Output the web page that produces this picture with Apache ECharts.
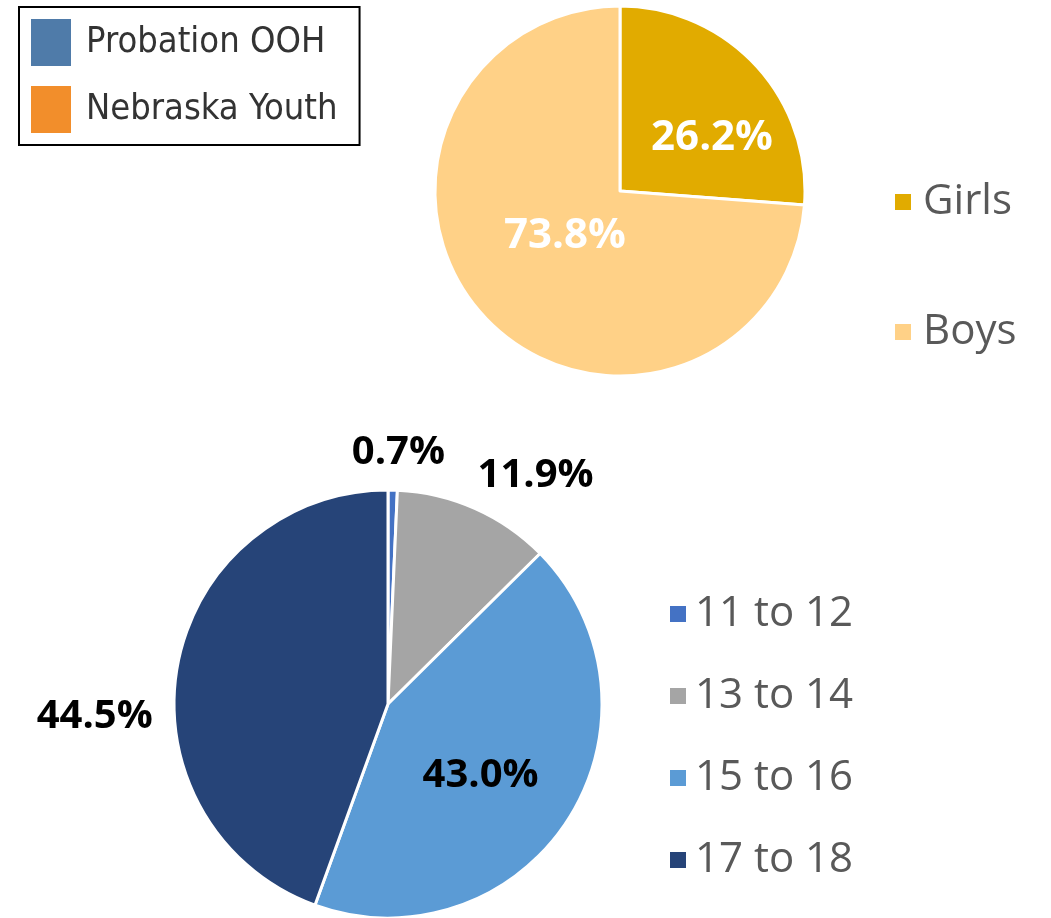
<!DOCTYPE html>
<html>
<head>
<meta charset="utf-8">
<script src="https://cdn.jsdelivr.net/npm/echarts@6/dist/echarts.min.js"></script>
<style>
  html, body { margin: 0; padding: 0; background: #fff; }
  #chart { width: 1051px; height: 918px; }
</style>
</head>
<body>
<div id="chart"></div>
<script>
// gender split
const genderNames = ["Girls", "Boys"];
const genderValues = [26.2, 73.8];
const genderColors = ["#E1AB00", "#FFD187"];

// age split
const ageNames = ["11 to 12", "13 to 14", "15 to 16", "17 to 18"];
const ageValues = [0.7, 11.9, 43.0, 44.5];
const ageColors = ["#4472C4", "#A5A5A5", "#5B9BD5", "#264478"];

// boxed legend in the corner
const groupNames = ["Probation OOH", "Nebraska Youth"];
const groupColors = ["#4F7BA9", "#F28E2B"];

// label nudges so they sit where the original places them
const genderLabelOffsets = [[22, 12], [15, -20]];
const ageLabelOffsets = [[8, -141], [103, -128], [0, 12], [-185, 32]];

const FONT = "'Open Sans', 'Noto Sans', sans-serif";

const chart = echarts.init(document.getElementById("chart"), null, { renderer: "canvas" });

const pct = (v) => v.toFixed(1) + "%";

const option = {
  backgroundColor: "#fff",
  animation: false,
  legend: [
    {
      // 性别图例
      data: genderNames,
      orient: "vertical",
      left: 888,
      top: 175,
      icon: "rect",
      itemWidth: 18,
      itemHeight: 18,
      itemGap: 86,
      selectedMode: false,
      textStyle: {
        fontFamily: FONT,
        fontSize: 42,
        lineHeight: 44,
        color: "#595959",
        padding: [0, 0, 0, 6],
      },
    },
    {
      // 年龄图例
      data: ageNames,
      orient: "vertical",
      left: 663,
      top: 587,
      icon: "rect",
      itemWidth: 18,
      itemHeight: 18,
      itemGap: 38,
      selectedMode: false,
      textStyle: {
        fontFamily: FONT,
        fontSize: 42,
        lineHeight: 44,
        color: "#595959",
        padding: [0, 0, 0, 3],
      },
    },
    {
      data: groupNames,
      orient: "vertical",
      left: 19,
      top: 7,
      icon: "rect",
      itemWidth: 40,
      itemHeight: 47,
      itemGap: 20,
      padding: [12, 22, 12, 12],
      borderColor: "#000",
      borderWidth: 2,
      selectedMode: false,
      textStyle: {
        fontFamily: "'DejaVu Sans Condensed', sans-serif",
        fontSize: 36,
        color: "#333",
        padding: [4, 0, 0, 10],
      },
    },
  ],
  series: [
    {
      type: "pie",
      center: [620, 191],
      radius: 185,
      startAngle: 90,
      clockwise: true,
      silent: true,
      itemStyle: { borderColor: "#fff", borderWidth: 3 },
      label: {
        show: true,
        position: "inside",
        fontFamily: FONT,
        fontWeight: "bold",
        fontSize: 42,
        color: "#fff",
        formatter: (p) => pct(p.value),
      },
      labelLine: { show: false },
      data: genderNames.map((name, i) => ({
        name,
        value: genderValues[i],
        itemStyle: { color: genderColors[i] },
        label: { offset: genderLabelOffsets[i] },
      })),
    },
    {
      type: "pie",
      center: [388, 704],
      radius: 214,
      startAngle: 90,
      clockwise: true,
      silent: true,
      itemStyle: { borderColor: "#fff", borderWidth: 3 },
      label: {
        show: true,
        position: "inside",
        fontFamily: FONT,
        fontWeight: "bold",
        fontSize: 40,
        color: "#000",
        formatter: (p) => pct(p.value),
      },
      labelLine: { show: false },
      data: ageNames.map((name, i) => ({
        name,
        value: ageValues[i],
        itemStyle: { color: ageColors[i] },
        label: { offset: ageLabelOffsets[i] },
      })),
    },
    {
      // 只用于左上角图例
      type: "pie",
      center: [0, 0],
      radius: 0,
      silent: true,
      label: { show: false },
      labelLine: { show: false },
      data: groupNames.map((name, i) => ({
        name,
        value: 0,
        itemStyle: { color: groupColors[i] },
      })),
    },
  ],
};

chart.setOption(option);
</script>
</body>
</html>
